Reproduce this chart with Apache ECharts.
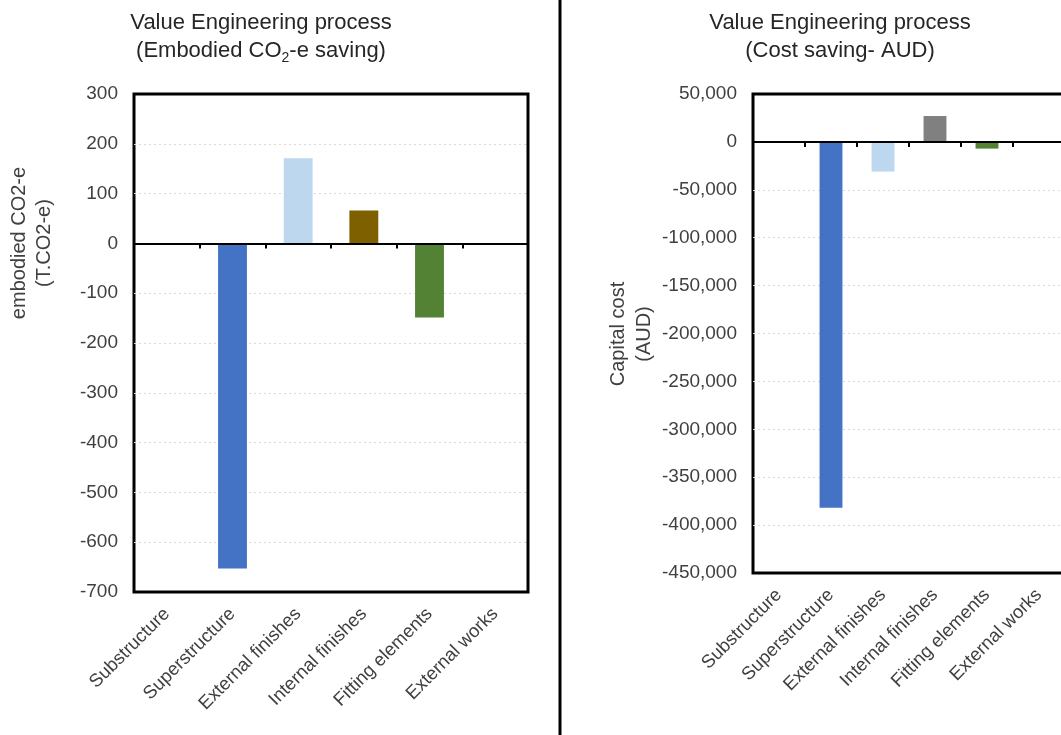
<!DOCTYPE html>
<html>
<head>
<meta charset="utf-8">
<script src="https://cdn.jsdelivr.net/npm/echarts@6/dist/echarts.min.js"></script>
<style>
  html, body { margin: 0; padding: 0; background: #fff; }
  #chart { width: 1061px; height: 735px; }
</style>
</head>
<body>
<div id="chart"></div>
<script>
// Building elements compared in both panels
const categories = ['Substructure', 'Superstructure', 'External finishes', 'Internal finishes', 'Fitting elements', 'External works'];

// Embodied CO2-e saving (T.CO2-e) per element
const co2Saving = [0, -653, 171, 66, -149, 0];
const co2Colors = ['#4472C4', '#4472C4', '#BDD7EE', '#7F6000', '#548235', '#4472C4'];

// Capital cost saving (AUD) per element
const costSaving = [0, -382000, -31000, 27000, -7000, 0];
const costColors = ['#4472C4', '#4472C4', '#BDD7EE', '#808080', '#548235', '#4472C4'];

// Y axis ranges
const co2Axis = { min: -700, max: 300, interval: 100 };
const costAxis = { min: -450000, max: 50000, interval: 50000 };

const FONT = 'Liberation Sans, Arial, sans-serif';
const TEXT = '#404040';

const chart = echarts.init(document.getElementById('chart'), null, { renderer: 'canvas' });

const grids = [
  { left: 134, top: 94, width: 394, height: 498, outerBoundsMode: 'none', containLabel: false,
    show: true, borderColor: '#000', borderWidth: 3, backgroundColor: 'transparent' },
  { left: 753, top: 94, width: 312, height: 479, outerBoundsMode: 'none', containLabel: false,
    show: true, borderColor: '#000', borderWidth: 3, backgroundColor: 'transparent' }
];

function zeroAxis(gridIndex) {
  return {
    type: 'category', gridIndex, data: categories, z: 5,
    axisLine: { onZero: true, lineStyle: { color: '#000', width: 2 } },
    axisTick: { show: true, interval: 0, length: 5, lineStyle: { color: '#000', width: 2 } },
    axisLabel: { show: false },
    splitLine: { show: false }
  };
}
function labelAxis(gridIndex) {
  return {
    type: 'category', gridIndex, data: categories, position: 'bottom',
    axisLine: { show: false, onZero: false },
    axisTick: { show: false },
    axisLabel: { rotate: 45, margin: 19, fontSize: 18.5, color: TEXT, fontFamily: FONT, interval: 0 },
    splitLine: { show: false }
  };
}
function valueAxis(gridIndex, range, fmt) {
  return {
    type: 'value', gridIndex, min: range.min, max: range.max, interval: range.interval,
    axisLine: { show: false },
    axisTick: { show: false },
    axisLabel: { fontSize: 19, color: TEXT, fontFamily: FONT, margin: 16, formatter: fmt },
    splitLine: { show: true, showMinLine: false, showMaxLine: false,
      lineStyle: { color: '#d9d9d9', width: 1, type: [2, 3] } }
  };
}

const option = {
  animation: false,
  backgroundColor: '#fff',
  title: [
    {
      text: 'Value Engineering process\n(Embodied CO{sub|2}-e saving)',
      left: 256, top: 4, textAlign: 'center',
      textStyle: {
        fontSize: 22, fontWeight: 'normal', color: '#262626', fontFamily: FONT, lineHeight: 28,
        rich: { sub: { fontSize: 14, fontFamily: FONT, color: '#262626', verticalAlign: 'bottom', lineHeight: 20, padding: [10, 0, 0, 0] } }
      }
    },
    {
      text: 'Value Engineering process\n(Cost saving- AUD)',
      left: 835, top: 4, textAlign: 'center',
      textStyle: { fontSize: 22, fontWeight: 'normal', color: '#262626', fontFamily: FONT, lineHeight: 28 }
    }
  ],
  grid: grids,
  xAxis: [zeroAxis(0), labelAxis(0), zeroAxis(1), labelAxis(1)],
  yAxis: [
    valueAxis(0, co2Axis, v => String(v)),
    valueAxis(1, costAxis, v => v.toLocaleString('en-US'))
  ],
  series: [
    {
      type: 'bar', xAxisIndex: 0, yAxisIndex: 0, barWidth: '44%',
      data: co2Saving.map((v, i) => ({ value: v, itemStyle: { color: co2Colors[i] } }))
    },
    {
      type: 'bar', xAxisIndex: 2, yAxisIndex: 1, barWidth: '44%',
      data: costSaving.map((v, i) => ({ value: v, itemStyle: { color: costColors[i] } }))
    }
  ],
  graphic: [
    // divider between the two panels
    { type: 'rect', shape: { x: 558.5, y: 0, width: 3, height: 735 }, style: { fill: '#000' }, z: 10 },
    // y axis titles
    {
      type: 'text', x: 32, y: 243, rotation: Math.PI / 2,
      style: { text: 'embodied CO2-e\n(T.CO2-e)', fontSize: 20, fontFamily: FONT, fill: TEXT, align: 'center', verticalAlign: 'middle', lineHeight: 25 }
    },
    {
      type: 'text', x: 631, y: 334, rotation: Math.PI / 2,
      style: { text: 'Capital cost\n(AUD)', fontSize: 20, fontFamily: FONT, fill: TEXT, align: 'center', verticalAlign: 'middle', lineHeight: 26 }
    }
  ]
};

chart.setOption(option);
</script>
</body>
</html>
